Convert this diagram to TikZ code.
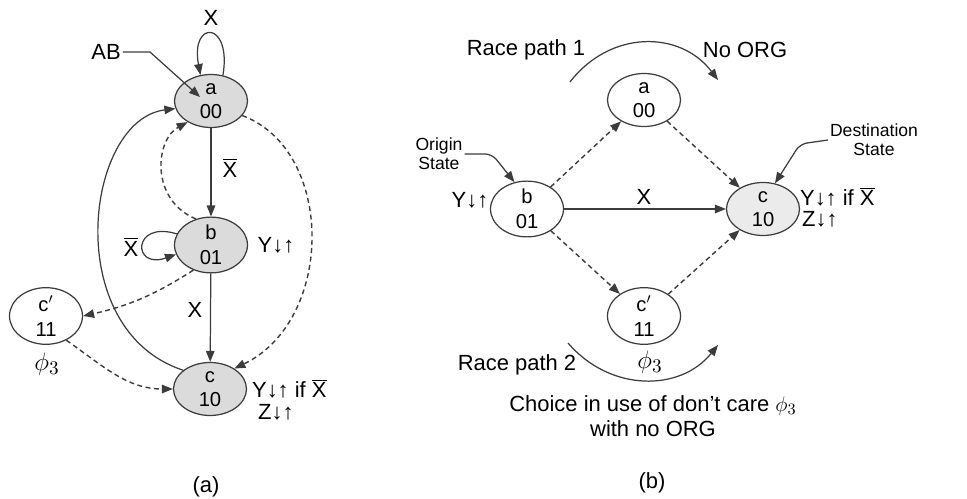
\documentclass[tikz,border=0pt]{standalone}
\usepackage{fontspec}
\setmainfont{Liberation Sans}
\usepackage{tikz}
\usetikzlibrary{arrows.meta,positioning,shapes.geometric}
\definecolor{lineg}{RGB}{60,60,60}

\begin{document}
\begin{tikzpicture}[x=0.02cm, y=-0.02cm,
    state/.style={draw=lineg, ellipse, line width=0.7pt, minimum width=1.46cm, minimum height=1.06cm, inner sep=0pt, align=center, font=\fontsize{11.5}{14}\selectfont},
    shaded/.style={state, fill=black!14},
    trans/.style={-{Triangle[length=2.2mm,width=1.7mm]}, line width=0.7pt, lineg},
    race/.style={trans, dashed, dash pattern=on 2.8pt off 2pt, line width=0.8pt},
    lbl/.style={font=\fontsize{12.5}{14}\selectfont, inner sep=1pt},
    phil/.style={font=\fontsize{15}{16}\selectfont, inner sep=1pt},
    note/.style={font=\fontsize{10}{11}\selectfont, align=center, inner sep=1pt}
]
\useasboundingbox (0,0) rectangle (967,499);

% (a) flow table states
\node[shaded] (a) at (211,101) {a\\00};
\node[shaded] (b) at (211,245) {b\\01};
\node[shaded] (c) at (210,389) {c\\10};
\node[state] (cp) at (46,316) {c$'$\\11};

\node[lbl] (ab) at (106,52) {AB};
\coordinate (abtip) at (200,97);
\node[lbl] (xa) at (211,18) {X};
\node[lbl] (xnab) at (230,168) {$\overline{\hbox{X}}$};
\node[lbl] (xnb) at (131,247) {$\overline{\hbox{X}}$};
\node[lbl] (ob) at (276,245) {Y↓↑};
\node[lbl] (xbc) at (195,310) {X};
\node[phil] (phia) at (47,364) {$\phi_3$};
\node[lbl, anchor=west] (oc1) at (250,389) {Y↓↑ if $\overline{\hbox{X}}$};
\node[lbl, anchor=west] (oc2) at (256,412) {Z↓↑};
\node[lbl] (capa) at (206,487) {(a)};

\draw[trans] (ab.east) -- (150,52) -- (abtip);
\draw[trans] (a.65) .. controls (232,20) and (190,20) .. (a.112);
\draw[trans] (b.162) .. controls (132,220) and (132,270) .. (b.195);
\draw[trans] (a) -- (b);
\draw[trans] (b) -- (c);
\draw[trans] (c.145) .. controls (60,330) and (85,120) .. (a.192);
\draw[race] (b.120) .. controls (150,200) and (155,140) .. (a.222);
\draw[race] (a.-25) .. controls (335,150) and (335,320) .. (c.40);
\draw[race] (b.235) to[bend left=10] (cp.east);
\draw[race] (cp.-50) to[out=-35,in=180] (c.west);

% (b) race paths
\node[state] (ra) at (644,100) {a\\00};
\node[state] (rb) at (527,209) {b\\01};
\node[state, fill=black!8] (rc) at (763,209) {c\\10};
\node[state] (rcp) at (644,316) {c$'$\\11};

\node[lbl] (rp1) at (526,50) {Race path 1};
\node[lbl] (norg) at (745,50) {No ORG};
\node[note] (origin) at (439,154) {Origin\\State};
\node[note] (dest) at (874,140) {Destination\\State};
\node[lbl] (orb) at (470,200) {Y↓↑};
\node[lbl] (xrbc) at (644,197) {X};
\node[lbl, anchor=west] (orc1) at (798,197) {Y↓↑ if $\overline{\hbox{X}}$};
\node[lbl, anchor=west] (orc2) at (800,219) {Z↓↑};
\node[lbl] (rp2) at (517,365) {Race path 2};
\node[phil] (phib) at (650,362) {$\phi_3$};
\node[lbl, align=center] (choice) at (653,416) {Choice in use of don't care $\phi_3$\\with no ORG};
\node[lbl] (capb) at (652,483) {(b)};

\coordinate (r1s) at (570,82);
\coordinate (r1e) at (718,80);
\coordinate (r2s) at (568,343);
\coordinate (r2e) at (718,345);

\draw[trans] (r1s) .. controls (610,30) and (680,30) .. (r1e);
\draw[trans] (r2s) .. controls (610,392) and (680,392) .. (r2e);
\draw[trans, rounded corners=4pt] (origin.east) -- (492,154) -- (rb.115);
\draw[trans, rounded corners=4pt] (dest.west) -- (800,144) -- (rc.65);
\draw[race] (rb) -- (ra);
\draw[race] (ra) -- (rc);
\draw[race] (rb) -- (rcp);
\draw[race] (rcp) -- (rc);
\draw[trans] (rb) -- (rc);
\end{tikzpicture}
\end{document}
